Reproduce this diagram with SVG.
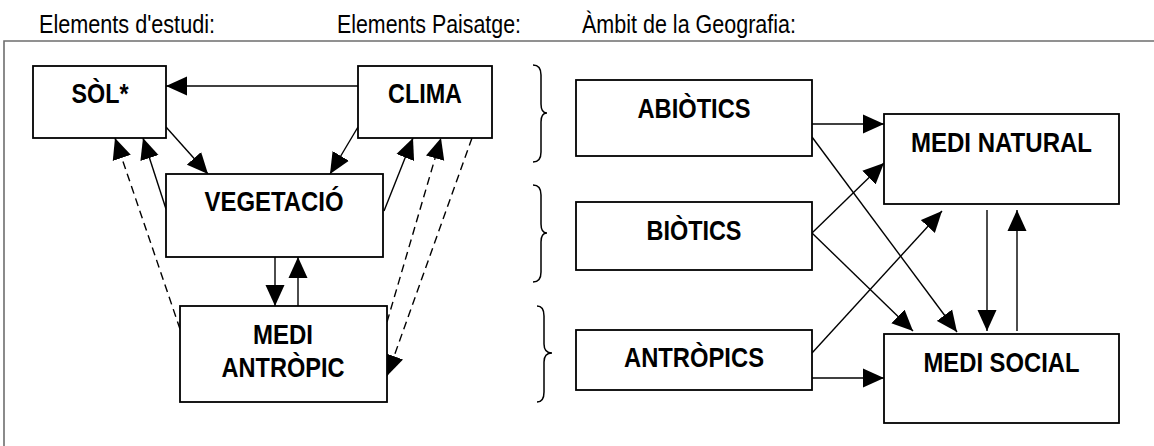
<svg xmlns="http://www.w3.org/2000/svg" width="1154" height="446" viewBox="0 0 1154 446">
<style>
.hdr{font-family:"Liberation Sans Narrow","Liberation Sans",Arial,sans-serif;font-size:26px;fill:#000}
.lbl{font-family:"Liberation Sans Narrow","Liberation Sans",Arial,sans-serif;font-size:28.5px;font-weight:bold;fill:#000;text-anchor:middle}
.box{fill:#fff;stroke:#000;stroke-width:1.8}
.c{fill:none;stroke:#000;stroke-width:1.4}
.d{fill:none;stroke:#000;stroke-width:1.4;stroke-dasharray:8 5}
.br{fill:none;stroke:#000;stroke-width:1.5}
.frame{fill:none;stroke:#6e6e6e;stroke-width:1.6}
</style>
<defs>
<marker id="ah" markerUnits="userSpaceOnUse" markerWidth="22" markerHeight="20" refX="21" refY="10" orient="auto" viewBox="0 0 22 20">
<path d="M0,0.5 L21,10 L0,19.5 Z" fill="#000"/>
</marker>
</defs>
<rect width="1154" height="446" fill="#fff"/>
<g id="headers">
<text class="hdr" x="39" y="33" textLength="176" lengthAdjust="spacingAndGlyphs">Elements d'estudi:</text>
<text class="hdr" x="337" y="33" textLength="184" lengthAdjust="spacingAndGlyphs">Elements Paisatge:</text>
<text class="hdr" x="582" y="33" textLength="214" lengthAdjust="spacingAndGlyphs">Àmbit de la Geografia:</text>
</g>
<path class="frame" d="M4,446 L4,41 L1154,41"/>
<g id="connectors">
<line class="c" x1="358" y1="86" x2="166" y2="86" marker-end="url(#ah)"/>
<line class="c" x1="166" y1="127" x2="208" y2="174" marker-end="url(#ah)"/>
<line class="c" x1="358" y1="127" x2="330" y2="174" marker-end="url(#ah)"/>
<line class="c" x1="166" y1="209" x2="143" y2="138" marker-end="url(#ah)"/>
<line class="d" x1="180" y1="329" x2="115" y2="138" marker-end="url(#ah)"/>
<line class="c" x1="384" y1="211" x2="413" y2="138" marker-end="url(#ah)"/>
<line class="d" x1="387" y1="322" x2="441" y2="138" marker-end="url(#ah)"/>
<line class="d" x1="472" y1="138" x2="387" y2="376" marker-end="url(#ah)"/>
<line class="c" x1="275" y1="257" x2="275" y2="306" marker-end="url(#ah)"/>
<line class="c" x1="298" y1="306" x2="298" y2="257" marker-end="url(#ah)"/>
<line class="c" x1="812" y1="124" x2="884" y2="124" marker-end="url(#ah)"/>
<line class="c" x1="812" y1="137" x2="957" y2="332" marker-end="url(#ah)"/>
<line class="c" x1="812" y1="233" x2="884" y2="163" marker-end="url(#ah)"/>
<line class="c" x1="812" y1="233" x2="913" y2="331" marker-end="url(#ah)"/>
<line class="c" x1="812" y1="353" x2="942" y2="211" marker-end="url(#ah)"/>
<line class="c" x1="812" y1="378" x2="884" y2="378" marker-end="url(#ah)"/>
<line class="c" x1="987" y1="210" x2="987" y2="331" marker-end="url(#ah)"/>
<line class="c" x1="1017" y1="331" x2="1017" y2="210" marker-end="url(#ah)"/>
</g>
<g id="braces">
<path class="br" d="M533,65 Q541,65 541,75 L541,104 Q541,113 547,113 Q541,113 541,122 L541,152 Q541,162 533,162"/>
<path class="br" d="M533,185 Q541,185 541,195 L541,224 Q541,233 547,233 Q541,233 541,242 L541,272 Q541,282 533,282"/>
<path class="br" d="M537,306 Q544,306 544,316 L544,344 Q544,353 552,353 Q544,353 544,362 L544,392 Q544,402 537,402"/>
</g>
<g id="sol"><rect class="box" x="33" y="66" width="133" height="72"/><text class="lbl" x="100" y="103" textLength="57" lengthAdjust="spacingAndGlyphs">SÒL*</text></g>
<g id="clima"><rect class="box" x="358" y="66" width="134" height="72"/><text class="lbl" x="425" y="103" textLength="74" lengthAdjust="spacingAndGlyphs">CLIMA</text></g>
<g id="vegetacio"><rect class="box" x="166" y="174" width="217" height="83"/><text class="lbl" x="274" y="211" textLength="139" lengthAdjust="spacingAndGlyphs">VEGETACIÓ</text></g>
<g id="medi-antropic"><rect class="box" x="180" y="306" width="207" height="96"/><text class="lbl" x="283" y="344" textLength="60" lengthAdjust="spacingAndGlyphs">MEDI</text><text class="lbl" x="283" y="377" textLength="123" lengthAdjust="spacingAndGlyphs">ANTRÒPIC</text></g>
<g id="abiotics"><rect class="box" x="576" y="80" width="236" height="76"/><text class="lbl" x="694" y="118" textLength="113" lengthAdjust="spacingAndGlyphs">ABIÒTICS</text></g>
<g id="biotics"><rect class="box" x="576" y="202" width="236" height="68"/><text class="lbl" x="694" y="240" textLength="95" lengthAdjust="spacingAndGlyphs">BIÒTICS</text></g>
<g id="antropics"><rect class="box" x="576" y="330" width="236" height="60"/><text class="lbl" x="694" y="367" textLength="140" lengthAdjust="spacingAndGlyphs">ANTRÒPICS</text></g>
<g id="medi-natural"><rect class="box" x="884" y="114" width="235" height="90"/><text class="lbl" x="1001.5" y="152" textLength="181" lengthAdjust="spacingAndGlyphs">MEDI NATURAL</text></g>
<g id="medi-social"><rect class="box" x="884" y="334" width="235" height="89"/><text class="lbl" x="1001.5" y="372" textLength="156" lengthAdjust="spacingAndGlyphs">MEDI SOCIAL</text></g>
</svg>
